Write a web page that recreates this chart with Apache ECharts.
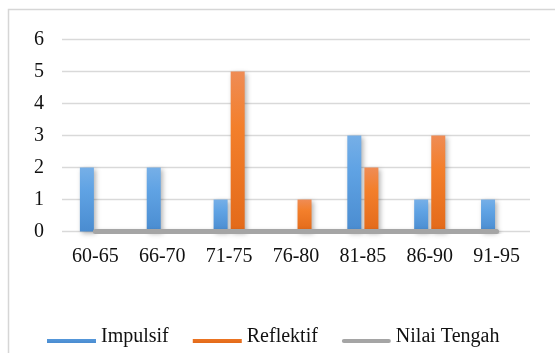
<!DOCTYPE html>
<html>
<head>
<meta charset="utf-8">
<script src="https://cdn.jsdelivr.net/npm/echarts@6/dist/echarts.min.js"></script>
<style>
  html, body { margin: 0; padding: 0; background: #fff; }
  #chart { width: 555px; height: 353px; }
</style>
</head>
<body>
<div id="chart"></div>
<script>
// Score ranges and counts per group
const categories = ['60-65', '66-70', '71-75', '76-80', '81-85', '86-90', '91-95'];
const impulsif = [2, 2, 1, 0, 3, 1, 1];
const reflektif = [0, 0, 5, 1, 2, 3, 0];
const nilaiTengah = [0, 0, 0, 0, 0, 0, 0];
const yTicks = [0, 1, 2, 3, 4, 5, 6];

const FONT = "'Liberation Serif', 'Times New Roman', serif";
const TEXT = '#111';

// Legend swatches sit low, near the text baseline: an empty point at the top
// of each path keeps the drawn bar in the lower part of the icon box.
const ICON_BAR = 'path://M0,0 L0,0 M0,8 L49,8 L49,12 L0,12 Z';
const ICON_LINE = 'path://M0,0 L0,0 M2,8 L47,8 A2,2 0 0 1 47,12 L2,12 A2,2 0 0 1 2,8 Z';

function grad(stops) {
  return new echarts.graphic.LinearGradient(0, 0, 0, 1,
    stops.map(function (s) { return { offset: s[0], color: s[1] }; }));
}

const barShadow = {
  shadowColor: 'rgba(0,0,0,0.3)',
  shadowBlur: 5,
  shadowOffsetX: 2,
  shadowOffsetY: 2
};

const chart = echarts.init(document.getElementById('chart'), null, { renderer: 'canvas' });

chart.setOption({
  animation: false,
  backgroundColor: '#fff',
  graphic: [{
    type: 'rect',
    shape: { x: 8.5, y: 9.5, width: 600, height: 400 },
    style: { fill: 'none', stroke: '#d6d6d6', lineWidth: 1.5 },
    silent: true,
    z: -10
  }],
  grid: { left: 62, right: 25, top: 39.5, bottom: 121.5 },
  legend: {
    left: 42,
    top: 322,
    itemWidth: 49,
    itemHeight: 12,
    itemGap: 24,
    textStyle: { fontFamily: FONT, fontSize: 20, color: TEXT },
    data: [
      { name: 'Impulsif', icon: ICON_BAR },
      { name: 'Reflektif', icon: ICON_BAR },
      { name: 'Nilai Tengah', icon: ICON_LINE }
    ]
  },
  xAxis: {
    type: 'category',
    data: categories,
    boundaryGap: true,
    axisLine: { show: false },
    axisTick: { show: false },
    axisLabel: { fontFamily: FONT, fontSize: 20, color: TEXT, margin: 15 }
  },
  yAxis: {
    type: 'value',
    min: yTicks[0],
    max: yTicks[yTicks.length - 1],
    interval: 1,
    axisLine: { show: false },
    axisTick: { show: false },
    axisLabel: { fontFamily: FONT, fontSize: 20, color: TEXT, margin: 18 },
    splitLine: { lineStyle: { color: '#d9d9d9', width: 1.3 } }
  },
  series: [
    {
      name: 'Impulsif',
      type: 'bar',
      data: impulsif,
      barWidth: 14,
      barGap: '22%',
      itemStyle: Object.assign({
        color: grad([[0, '#76afe7'], [0.35, '#60a3e4'], [1, '#4a8cd0']])
      }, barShadow)
    },
    {
      name: 'Reflektif',
      type: 'bar',
      data: reflektif,
      barWidth: 14,
      barGap: '22%',
      itemStyle: Object.assign({
        color: grad([[0, '#ef8c55'], [0.35, '#f37f2b'], [1, '#e36a1a']])
      }, barShadow)
    },
    {
      name: 'Nilai Tengah',
      type: 'line',
      data: nilaiTengah,
      symbol: 'none',
      showSymbol: false,
      itemStyle: { color: '#a5a5a5' },
      lineStyle: {
        color: '#a5a5a5',
        width: 5,
        cap: 'round',
        shadowColor: 'rgba(0,0,0,0.25)',
        shadowBlur: 4,
        shadowOffsetX: 1,
        shadowOffsetY: 2
      },
      z: 3
    }
  ]
});
</script>
</body>
</html>
